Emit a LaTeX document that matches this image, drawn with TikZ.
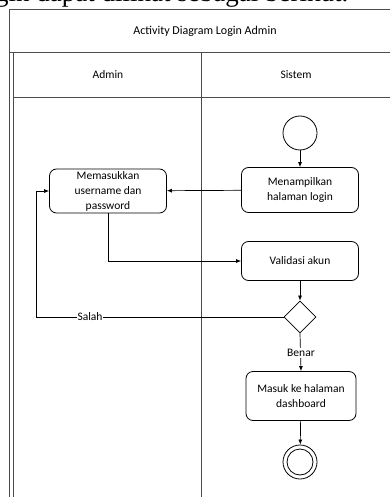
\documentclass[tikz,border=0pt]{standalone}
\usepackage{fontspec}
\setmainfont{Carlito}
\newfontfamily\bodyserif{Liberation Serif}
\usetikzlibrary{shapes.geometric,arrows.meta}
\begin{document}
\begin{tikzpicture}[x=1pt,y=-1pt,
  frame/.style={draw=black!70,line width=0.9pt},
  action/.style={draw,rounded corners=7pt,line width=0.8pt,align=center,
    font=\fontsize{11.5}{15}\selectfont,inner sep=0pt},
  flow/.style={draw,line width=0.7pt,-{Latex[length=5pt,width=4pt]}},
  plain/.style={draw,line width=0.7pt},
  lbl/.style={font=\fontsize{11.5}{12}\selectfont,fill=white,inner sep=1pt},
  hdr/.style={font=\fontsize{11.5}{12}\selectfont}]
\useasboundingbox (0,0) rectangle (390,497);

% running text of the page above the figure, cut by the page edge
\begin{scope}
  \clip (0,0) rectangle (390,8);
  \node[anchor=base west,inner sep=0pt,font=\bodyserif\fontsize{27}{30}\selectfont] (pagetext) at (-5,2) {gin dapat dilihat sebagai berikut.};
\end{scope}

% swimlane frame
\draw[frame] (9,9) -- (390,9);
\draw[frame] (9,52) -- (390,52);
\draw[frame] (13,97) -- (390,97);
\draw[frame] (9,9) -- (9,497);
\draw[frame] (13,52) -- (13,497);
\draw[frame] (201,52) -- (201,497);

\node[hdr,font=\fontsize{12}{12}\selectfont] (title) at (205,31) {Activity Diagram Login Admin};
\node[hdr] (laneA) at (108,75) {Admin};
\node[hdr] (laneS) at (296,75) {Sistem};

% activity nodes
\node[circle,draw,line width=0.8pt,minimum size=34pt,inner sep=0pt] (start) at (300,133) {};
\node[action,minimum width=117pt,minimum height=45pt] (show) at (300,190) {Menampilkan\\halaman login};
\node[action,minimum width=117pt,minimum height=44pt] (input) at (108,191) {Memasukkan\\username dan\\password};
\node[action,minimum width=117pt,minimum height=39pt] (valid) at (300,261) {Validasi akun};
\node[diamond,draw,line width=0.8pt,minimum width=32pt,minimum height=32pt,inner sep=0pt] (dec) at (300,317) {};
\node[action,minimum width=110pt,minimum height=49pt] (dash) at (301,396) {Masuk ke halaman\\dashboard};
\node[circle,draw,line width=0.8pt,minimum size=34pt,inner sep=0pt] (endo) at (300,462) {};
\node[circle,draw,line width=0.8pt,minimum size=26pt,inner sep=0pt] (endi) at (300,462) {};

\coordinate (salahcorner) at (36,317);

% control flows
\draw[flow] (start) -- (show);
\draw[flow] (show) -- (input);
\draw[flow] (input.south) |- (valid.west);
\draw[flow] (valid) -- (dec);
\draw[plain] (dec.west) -- (salahcorner);
\draw[flow] (salahcorner) |- (input.west);
\node[lbl] (salah) at (90,317) {Salah};
\draw[flow] (dec.south) -- (dash.north);
\node[lbl] (benar) at (301,353) {Benar};
\draw[flow] (dash) -- (endo);
\end{tikzpicture}
\end{document}
